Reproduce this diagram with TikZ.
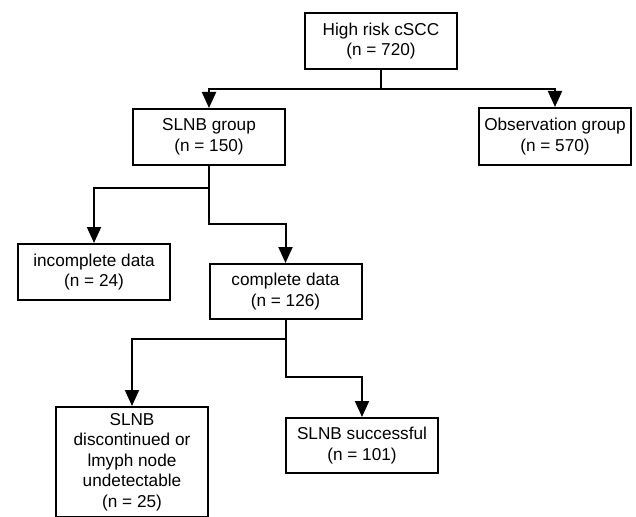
\documentclass[tikz,border=0pt]{standalone}
\usepackage{fontspec}
\setmainfont{Liberation Sans}
\usepackage{tikz}
\tikzset{
	box/.style={
			draw, line width=2pt, align=center,
			minimum width=152pt, minimum height=56pt, inner sep=2pt,
			font=\fontsize{17.2}{20.5}\selectfont
		}
}
\tikzstyle{arr} = [line width=2pt, -{Triangle[length=16pt,width=14pt]}]
\tikzstyle{ln} = [line width=2pt, -]
\usetikzlibrary{arrows,arrows.meta,calc}

\begin{document}
\begin{tikzpicture}[x=1pt, y=-1pt]
  \useasboundingbox (0,0) rectangle (636,516);
  \node[box] (cohort) at (381,41) {High risk cSCC\\(n = 720)};
  \node[box] (slnb) at (209,137) {SLNB group\\(n = 150)};
  \node[box, minimum height=57pt] (obs) at (555,136.5) {Observation group\\(n = 570)};
  \node[box] (incomp) at (94,272) {incomplete data\\(n = 24)};
  \node[box, minimum height=55pt] (comp) at (285.5,291.5) {complete data\\(n = 126)};
  \node[box, minimum height=110pt] (disc) at (132,462) {SLNB\\discontinued or\\lmyph node\\undetectable\\(n = 25)};
  \node[box, minimum height=55pt] (succ) at (362,445.5) {SLNB successful\\(n = 101)};

  \coordinate (split1) at ($(cohort.south)+(0,19)$);
  \coordinate (split2) at ($(slnb.south)+(0,22)$);
  \coordinate (split3) at ($(comp.south)+(0,19)$);

  \draw[ln] (cohort.south) -- (split1);
  \draw[arr] (split1) -| (slnb.north);
  \draw[arr] (split1) -| (obs.north);

  \draw[ln] (slnb.south) -- (split2);
  \draw[arr] (split2) -| (incomp.north);
  \draw[arr] (split2) -- ++(0,36) -| (comp.north);

  \draw[ln] (comp.south) -- (split3);
  \draw[arr] (split3) -| (disc.north);
  \draw[arr] (split3) -- ++(0,38) -| (succ.north);
\end{tikzpicture}
\end{document}
